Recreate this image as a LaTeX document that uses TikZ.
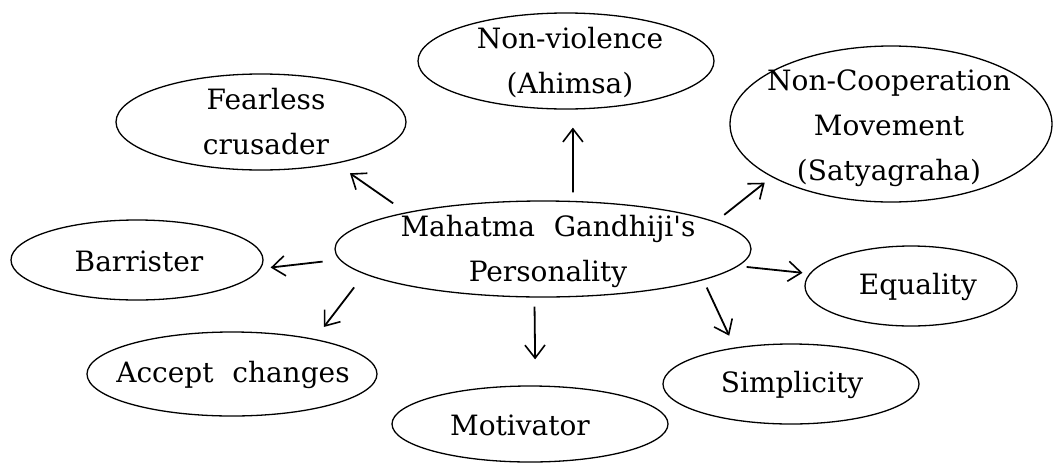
\documentclass[tikz,border=0pt]{standalone}
\usepackage{fontspec}
\setmainfont{DejaVu Serif}
\usetikzlibrary{shapes.geometric,arrows.meta}
\begin{document}
\begin{tikzpicture}[x=1pt,y=-1pt,
  ell/.style={draw, ellipse, line width=1.3pt, inner sep=0pt},
  lbl/.style={align=center, font=\fontsize{28}{45}\selectfont, inner sep=0pt},
  arr/.style={-{Straight Barb[length=13pt,width=20pt,line width=1.6pt]}, line width=1.8pt}]
\useasboundingbox (0,0) rectangle (1060,464);
% ellipses
\node[ell, minimum width=416pt, minimum height=96pt] (c) at (543,249) {};
\node[ell, minimum width=290pt, minimum height=96pt] (fear) at (261,122) {};
\node[ell, minimum width=296pt, minimum height=96pt] (nonv) at (566,61) {};
\node[ell, minimum width=322pt, minimum height=156pt] (ncoop) at (891,124) {};
\node[ell, minimum width=252pt, minimum height=80pt] (barr) at (137,260) {};
\node[ell, minimum width=212pt, minimum height=80pt] (equal) at (911,286) {};
\node[ell, minimum width=290pt, minimum height=84pt] (accept) at (232,374) {};
\node[ell, minimum width=276pt, minimum height=76pt] (motiv) at (530,424) {};
\node[ell, minimum width=256pt, minimum height=80pt] (simpl) at (791,384) {};
% texts
\node[lbl] (tc) at (548,251) {Mahatma\hspace{0.35em} Gandhiji\textquotesingle s\\Personality};
\node[lbl] (tfear) at (266,122) {Fearless\\crusader};
\node[lbl] (tnonv) at (570,63) {Non-violence\\(Ahimsa)};
\node[lbl] (tncoop) at (889,128) {Non-Cooperation\\Movement\\(Satyagraha)};
\node[lbl] (tbarr) at (139,261) {Barrister};
\node[lbl] (tequal) at (918,287) {Equality};
\node[lbl] (taccept) at (233,375) {Accept\hspace{0.35em} changes};
\node[lbl] (tmotiv) at (520,425) {Motivator};
\node[lbl] (tsimpl) at (792,385) {Simplicity};
% arrows
\draw[arr, shorten <=15.7pt, shorten >=16.8pt] (c.165.25) -- (fear.-29.55);
\draw[arr, shorten <=8.5pt, shorten >=18pt] (c.58.6) -- (nonv.-82.9);
\draw[arr, shorten <=11pt, shorten >=9pt] (c.9.2) -- (ncoop.204.75);
\draw[arr, shorten <=17pt, shorten >=10pt] (c.183.5) -- (barr.-4.7);
\draw[arr, shorten <=16.7pt, shorten >=15pt] (c.188.8) -- (accept.23.7);
\draw[arr, shorten <=9pt, shorten >=26pt] (c.260.5) -- (motiv.82.5);
\draw[arr, shorten <=8.2pt, shorten >=13pt] (c.349.2) -- (simpl.147);
\draw[arr, shorten <=8.3pt, shorten >=7pt] (c.355.4) -- (equal.173.9);
\end{tikzpicture}
\end{document}
